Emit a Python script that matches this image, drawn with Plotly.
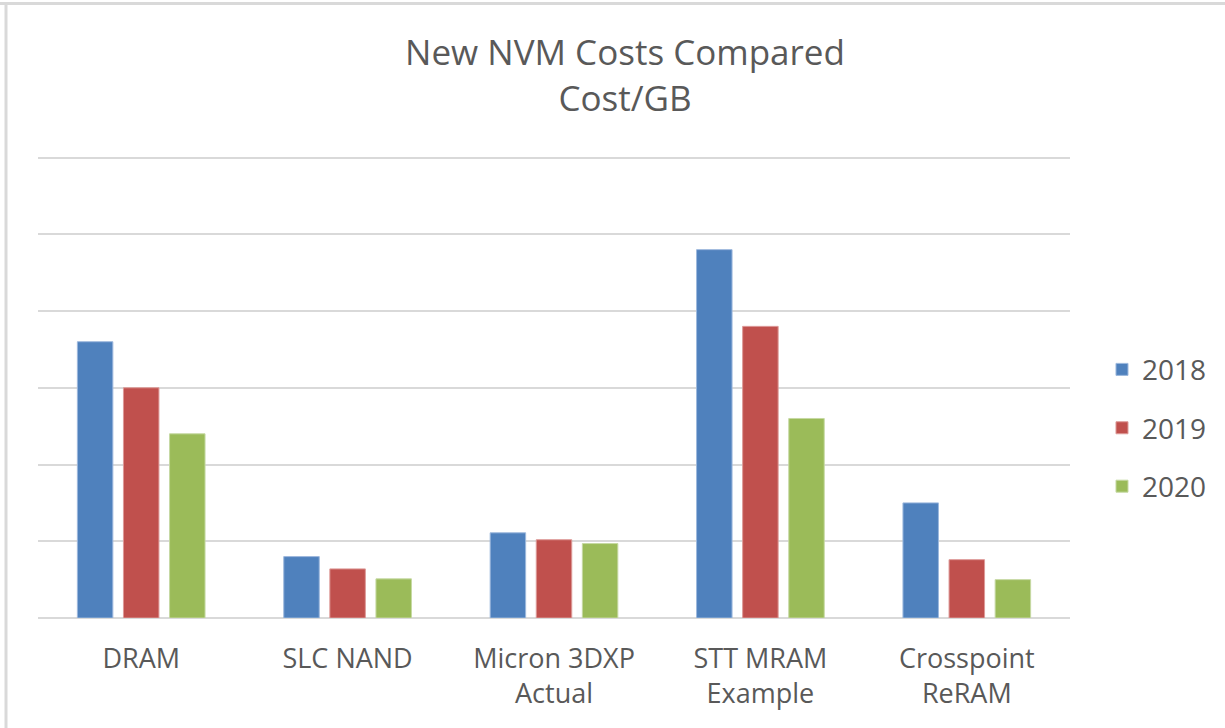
import plotly.graph_objects as go

categories = ["DRAM", "SLC NAND", "Micron 3DXP<br>Actual", "STT MRAM<br>Example", "Crosspoint<br>ReRAM"]
years = ["2018", "2019", "2020"]
values_2018 = [3.6, 0.8, 1.11, 4.8, 1.5]
values_2019 = [3.0, 0.64, 1.02, 3.8, 0.76]
values_2020 = [2.4, 0.51, 0.97, 2.6, 0.5]
colors = ["#4F81BD", "#C0504D", "#9BBB59"]
edge_colors = ["#9DB8DD", "#DD9A98", "#C6D9A3"]

W, H = 1225, 728
YMAX = 6.02
L, R, B = 38, 155, 110
PLOT_H = 460 * YMAX / 6
T = H - B - PLOT_H

fig = go.Figure()
for name, vals, c, ec in zip(years, [values_2018, values_2019, values_2020], colors, edge_colors):
    fig.add_trace(go.Bar(
        x=categories, y=vals, name=name, legendgroup=name,
        marker=dict(color=c, line=dict(color=ec, width=1)),
    ))

pw = W - L - R
fig.update_layout(
    width=W, height=H,
    margin=dict(l=L, r=R, t=T, b=B, autoexpand=False),
    paper_bgcolor="white", plot_bgcolor="white",
    font=dict(family="Open Sans", color="#595959", size=27),
    title=dict(
        text="New NVM Costs Compared<br>Cost/GB",
        x=625 / W, xanchor="center",
        y=1 - 65 / H, yanchor="top",
        font=dict(family="Open Sans", size=35, color="#595959"),
    ),
    barmode="group", bargap=0.33, bargroupgap=0.23,
    showlegend=True,
    legend=dict(
        x=1.031, xanchor="left", y=(618 - 429) / 460, yanchor="middle",
        font=dict(size=28, color="#595959"),
        traceorder="grouped", tracegroupgap=19,
        bgcolor="rgba(0,0,0,0)",
    ),
    xaxis=dict(
        showgrid=False, showline=False, ticks="",
        tickfont=dict(size=27, color="#595959"),
        ticklabelstandoff=22,
    ),
    yaxis=dict(
        range=[0, YMAX], dtick=1, showticklabels=False,
        showgrid=True, gridcolor="#D9D9D9", gridwidth=1.5,
        zeroline=True, zerolinecolor="#D9D9D9", zerolinewidth=1.5,
        showline=False, ticks="",
    ),
    shapes=[
        dict(type="line", xref="paper", yref="paper",
             x0=-L / pw, x1=(W - L) / pw,
             y0=1 + (T - 4) / PLOT_H, y1=1 + (T - 4) / PLOT_H,
             line=dict(color="#D9D9D9", width=3)),
        dict(type="line", xref="paper", yref="paper",
             x0=-(L - 6) / pw, x1=-(L - 6) / pw,
             y0=-B / PLOT_H, y1=1 + (T - 4) / PLOT_H,
             line=dict(color="#D9D9D9", width=3)),
    ],
)

fig.write_html("out.html", config={"displayModeBar": False},
               post_script="document.body.style.margin='0';")
